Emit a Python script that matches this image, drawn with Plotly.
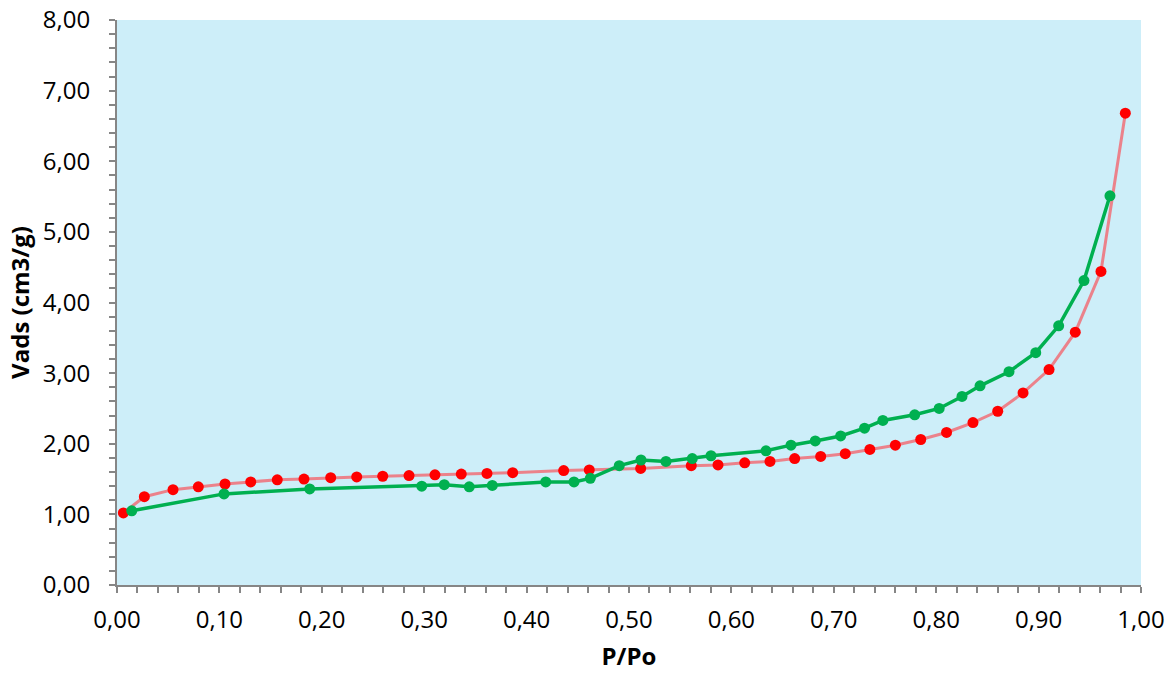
import plotly.graph_objects as go

# Red series (adsorption)
red_x = [0.0062, 0.0267, 0.0547, 0.0794, 0.1055, 0.1306, 0.1565, 0.1826, 0.2087, 0.2341,
         0.2595, 0.2852, 0.3105, 0.3362, 0.3613, 0.3864, 0.4362, 0.4612, 0.5114, 0.5608,
         0.5869, 0.6130, 0.6377, 0.6618, 0.6872, 0.7112, 0.7352, 0.7601, 0.7849, 0.8101,
         0.8359, 0.8601, 0.8848, 0.9102, 0.9358, 0.9609, 0.9847]
red_y = [1.02, 1.25, 1.35, 1.39, 1.43, 1.46, 1.49, 1.50, 1.52, 1.53,
         1.54, 1.55, 1.56, 1.57, 1.58, 1.59, 1.62, 1.63, 1.65, 1.69,
         1.70, 1.73, 1.75, 1.79, 1.82, 1.86, 1.92, 1.98, 2.06, 2.16,
         2.30, 2.46, 2.72, 3.05, 3.58, 4.44, 6.68]

# Green series (desorption)
green_x = [0.0144, 0.1045, 0.1882, 0.2976, 0.3196, 0.3440, 0.3665, 0.4187, 0.4463, 0.4622,
           0.4905, 0.5117, 0.5361, 0.5618, 0.5801, 0.6338, 0.6582, 0.6819, 0.7067, 0.7300,
           0.7479, 0.7790, 0.8029, 0.8252, 0.8428, 0.8711, 0.8972, 0.9196, 0.9443, 0.9697]
green_y = [1.05, 1.29, 1.36, 1.40, 1.42, 1.39, 1.41, 1.46, 1.46, 1.51,
           1.69, 1.77, 1.75, 1.79, 1.83, 1.90, 1.98, 2.04, 2.11, 2.22,
           2.33, 2.41, 2.50, 2.67, 2.82, 3.02, 3.29, 3.67, 4.31, 5.51]

x_ticks = [i / 10 for i in range(11)]
x_labels = ["0,00", "0,10", "0,20", "0,30", "0,40", "0,50", "0,60", "0,70", "0,80", "0,90", "1,00"]
y_ticks = list(range(9))
y_labels = ["0,00", "1,00", "2,00", "3,00", "4,00", "5,00", "6,00", "7,00", "8,00"]

fig = go.Figure()
fig.add_trace(go.Scatter(
    x=red_x, y=red_y, mode="lines+markers",
    line=dict(color="rgba(240,110,120,0.85)", width=3),
    marker=dict(color="#FF0000", size=11),
    showlegend=False))
fig.add_trace(go.Scatter(
    x=green_x, y=green_y, mode="lines+markers",
    line=dict(color="#00B050", width=3.5),
    marker=dict(color="#00B050", size=11),
    showlegend=False))

font_family = "Open Sans, Noto Sans, sans-serif"
axis_common = dict(
    showgrid=False, zeroline=False, automargin=False,
    showline=True, linecolor="#868686", linewidth=2,
    ticks="outside", tickcolor="#868686", tickwidth=2, ticklen=6,
    tickfont=dict(family=font_family, size=24, color="#000000"),
    mirror=False,
)

fig.update_xaxes(
    range=[0, 1], tickvals=x_ticks, ticktext=x_labels,
    minor=dict(dtick=0.02, ticks="outside", ticklen=6, tickcolor="#868686", tickwidth=2, showgrid=False),
    title=dict(text="<b>P/Po</b>", font=dict(family=font_family, size=24, color="#000000"), standoff=14),
    ticklabelstandoff=6,
    **axis_common)
fig.update_yaxes(
    range=[0, 8], tickvals=y_ticks, ticktext=y_labels,
    minor=dict(dtick=0.2, ticks="outside", ticklen=6, tickcolor="#868686", tickwidth=2, showgrid=False),
    title=dict(text="<b>Vads (cm3/g)</b>", font=dict(family=font_family, size=24, color="#000000"), standoff=6),
    ticklabelstandoff=14,
    **axis_common)

fig.update_layout(
    width=1176, height=679,
    margin=dict(l=117, r=35, t=20, b=94, autoexpand=False),
    plot_bgcolor="#cdeef9",
    paper_bgcolor="#ffffff",
)

fig.write_html("out.html", config={"displayModeBar": False},
               post_script="document.body.style.margin='0';document.body.style.padding='0';")
